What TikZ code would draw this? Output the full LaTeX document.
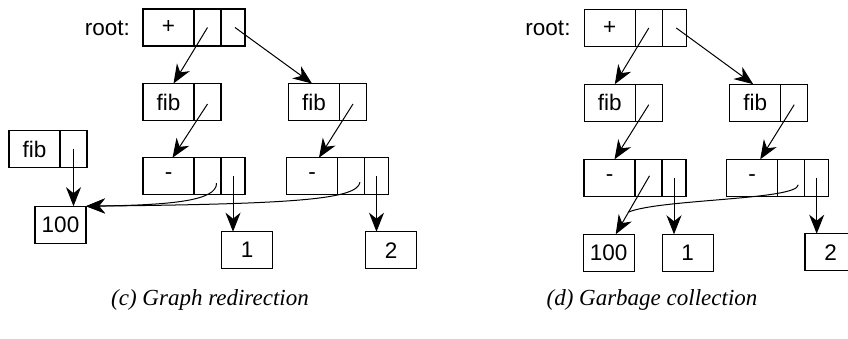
\documentclass[tikz,border=0pt]{standalone}
\usepackage{fontspec}
\setmainfont{Liberation Serif}
\newfontfamily\labfont{Liberation Sans}
\usetikzlibrary{arrows.meta,calc}
\tikzset{
  cell/.style={draw, line width=1.1pt, outer sep=0pt, inner sep=0pt, minimum height=37pt,
               font=\labfont\fontsize{22.5}{24}\selectfont, anchor=west},
  bigcell/.style={cell, minimum width=51pt},
  midcell/.style={cell, minimum width=27pt},
  endcell/.style={cell, minimum width=24pt},
  valbox/.style={draw, line width=1.1pt, outer sep=0pt, inner sep=0pt, minimum height=37pt,
               minimum width=51pt, font=\labfont\fontsize{22.5}{24}\selectfont},
  ptr/.style={arrows={-Stealth[length=19pt,width=15pt,inset=6pt]}, line width=1pt},
  plainline/.style={line width=1pt},
  rootlabel/.style={font=\labfont\fontsize{22.5}{24}\selectfont, anchor=east, inner sep=0pt},
  captext/.style={font=\itshape\fontsize{23}{26}\selectfont, inner sep=0pt}
}
\begin{document}
\begin{tikzpicture}[x=1pt,y=-1pt]
\useasboundingbox (0,0) rectangle (848,338);

% ---------------- (c) Graph redirection ----------------
\node[rootlabel] (cRootLbl) at (130,28) {root:};
\node[bigcell] (cR1) at (143,27.5) {+};
\node[midcell] (cR2) at (cR1.east) {};
\node[endcell] (cR3) at (cR2.east) {};

\node[bigcell] (cFL1) at (143,102) {fib};
\node[midcell] (cFL2) at (cFL1.east) {};
\node[bigcell] (cFR1) at (288.5,102) {fib};
\node[midcell] (cFR2) at (cFR1.east) {};

\node[bigcell] (cFF1) at (9,149) {fib};
\node[midcell] (cFF2) at (cFF1.east) {};

\node[bigcell] (cML1) at (143,176.2) {-};
\node[midcell] (cML2) at (cML1.east) {};
\node[endcell] (cML3) at (cML2.east) {};
\node[bigcell] (cMR1) at (286.5,176.2) {-};
\node[midcell] (cMR2) at (cMR1.east) {};
\node[endcell] (cMR3) at (cMR2.east) {};

\node[valbox] (cV100) at (60.5,224.7) {100};
\node[valbox] (cV1) at (247.2,250.2) {1};
\node[valbox] (cV2) at (391.2,250.2) {2};

\draw[ptr] (cR2.center) -- ([xshift=5pt]cFL1.north);
\draw[ptr] ([xshift=2pt]cR3.center) -- ([xshift=-2pt]cFR1.north);
\draw[ptr] ([yshift=-2pt]cFL2.center) -- ([xshift=4pt]cML1.north);
\draw[ptr] ([yshift=-2pt]cFR2.center) -- ([xshift=7pt]cMR1.north);
\draw[ptr] (cFF2.center) -- (cFF2.center |- cV100.north);
\draw[ptr] (cML3.center) -- (cML3.center |- cV1.north);
\draw[ptr] (cMR3.center) -- (cMR3.center |- cV2.north);
\coordinate (cMLs) at ([xshift=9pt,yshift=-7pt]cML2.center);
\coordinate (cMRs) at ([xshift=9pt,yshift=-6pt]cMR2.center);
\draw[ptr] (cMLs) .. controls (217,201) and (170,205) .. (cV100.north east);
\draw[ptr] (cMRs) .. controls (357,199) and (300,204) .. (cV100.north east);

\node[captext] (cCap) at (210,300) {(c) Graph redirection};

% ---------------- (d) Garbage collection ----------------
\node[rootlabel] (dRootLbl) at (570.7,28) {root:};
\node[bigcell] (dR1) at (584.3,28) {+};
\node[midcell] (dR2) at (dR1.east) {};
\node[endcell] (dR3) at (dR2.east) {};

\node[bigcell] (dFL1) at (584.3,102.7) {fib};
\node[midcell] (dFL2) at (dFL1.east) {};
\node[bigcell] (dFR1) at (729.7,102.7) {fib};
\node[midcell] (dFR2) at (dFR1.east) {};

\node[bigcell] (dML1) at (584,177.8) {-};
\node[midcell] (dML2) at (dML1.east) {};
\node[endcell] (dML3) at (dML2.east) {};
\node[bigcell] (dMR1) at (726.7,177.8) {-};
\node[midcell] (dMR2) at (dMR1.east) {};
\node[endcell] (dMR3) at (dMR2.east) {};

\node[valbox] (dV100) at (608.7,252.8) {100};
\node[valbox] (dV1) at (687.7,252.8) {1};
\node[valbox] (dV2) at (830.5,252.2) {2};

\draw[ptr] (dR2.center) -- ([xshift=5pt]dFL1.north);
\draw[ptr] ([xshift=2pt]dR3.center) -- ([xshift=-2pt]dFR1.north);
\draw[ptr] ([yshift=-2pt]dFL2.center) -- ([xshift=5pt]dML1.north);
\draw[ptr] ([yshift=-2pt]dFR2.center) -- ([xshift=8pt]dMR1.north);
\coordinate (dMLs) at ([xshift=1pt,yshift=2pt]dML2.center);
\draw[ptr] (dMLs) -- ([xshift=7pt]dV100.north);
\coordinate (dMerge) at ($(dMLs)!0.62!([xshift=7pt]dV100.north)$);
\draw[ptr] (dML3.center) -- (dML3.center |- dV1.north);
\draw[ptr] (dMR3.center) -- (dMR3.center |- dV2.north);
\coordinate (dMRs) at ([xshift=7pt,yshift=-7pt]dMR2.center);
\draw[plainline] (dMRs) .. controls (798,200) and (660,199) .. (dMerge);

\node[captext] (dCap) at (652,300) {(d) Garbage collection};
\end{tikzpicture}
\end{document}
